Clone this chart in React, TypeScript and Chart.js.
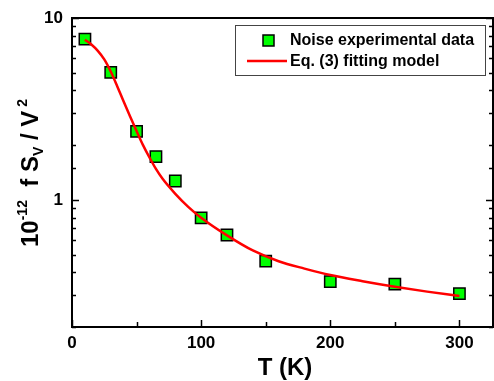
import React, { useEffect, useRef } from 'react';
import { Chart, registerables } from 'chart.js';

Chart.register(...registerables);

const temperatures = [10, 30, 50, 65, 80, 100, 120, 150, 200, 250, 300];
const noiseValues = [7.65, 5.02, 2.38, 1.73, 1.27, 0.797, 0.641, 0.46, 0.355, 0.344, 0.305];
const fitTemperatures = [10, 15, 20, 25, 30, 35, 40, 45, 50, 55, 60, 65, 70, 80, 90, 100, 120, 140, 160, 180, 200, 225, 250, 275, 300];
const fitValues = [7.6, 7.15, 6.6, 5.92, 5.08, 4.22, 3.47, 2.87, 2.39, 2.0, 1.71, 1.48, 1.31, 1.08, 0.916, 0.798, 0.638, 0.527, 0.46, 0.419, 0.386, 0.357, 0.333, 0.313, 0.296];
const xMajorTicks = [0, 100, 200, 300];
const xMinorTicks = [50, 150, 250];
const yLabelTicks = [1, 10];
const legendLabels = ['Noise experimental data', 'Eq. (3) fitting model'];
const xTitle = 'T (K)';

const FONT = "Arial, 'Liberation Sans', sans-serif";

const framePlugin = {
  id: 'frame',
  afterDraw(chart: any) {
    const ctx = chart.ctx;
    const { left, right, top, bottom } = chart.chartArea;
    const xs = chart.scales.x;
    const ys = chart.scales.y;
    ctx.save();
    ctx.strokeStyle = '#000';
    ctx.lineWidth = 2;
    ctx.beginPath();
    ctx.moveTo(left, top);
    ctx.lineTo(right, top);
    ctx.lineTo(right, bottom);
    ctx.lineTo(left, bottom);
    ctx.closePath();
    ctx.stroke();
    ctx.lineWidth = 1.5;
    ys.ticks.forEach((t: any) => {
      const v = t.value;
      const lg = Math.log10(v);
      const major = Math.abs(lg - Math.round(lg)) < 1e-6;
      const len = major ? 7 : 4;
      const py = Math.round(ys.getPixelForValue(v)) + 0.5;
      ctx.beginPath();
      ctx.moveTo(left, py);
      ctx.lineTo(left + len, py);
      ctx.moveTo(right, py);
      ctx.lineTo(right - len, py);
      ctx.stroke();
    });
    xMajorTicks.forEach((v) => {
      const px = Math.round(xs.getPixelForValue(v)) + 0.5;
      ctx.beginPath();
      ctx.moveTo(px, bottom);
      ctx.lineTo(px, bottom - 7);
      ctx.stroke();
    });
    xMinorTicks.forEach((v) => {
      const px = Math.round(xs.getPixelForValue(v)) + 0.5;
      ctx.beginPath();
      ctx.moveTo(px, bottom);
      ctx.lineTo(px, bottom - 5);
      ctx.stroke();
    });

    // legend
    const lx = 235, ly = 25, lw = 250, lh = 50;
    ctx.fillStyle = '#fff';
    ctx.fillRect(lx, ly, lw, lh);
    ctx.lineWidth = 1;
    ctx.strokeStyle = '#444';
    ctx.strokeRect(lx + 0.5, ly + 0.5, lw, lh);
    const pointDs = chart.data.datasets[1];
    const lineDs = chart.data.datasets[0];
    ctx.fillStyle = pointDs.backgroundColor;
    ctx.strokeStyle = pointDs.borderColor;
    ctx.lineWidth = 1.5;
    ctx.fillRect(263, 35, 11, 11);
    ctx.strokeRect(263, 35, 11, 11);
    ctx.strokeStyle = lineDs.borderColor;
    ctx.lineWidth = 2.5;
    ctx.beginPath();
    ctx.moveTo(247, 61);
    ctx.lineTo(287, 61);
    ctx.stroke();
    ctx.fillStyle = '#000';
    ctx.font = `bold 16px ${FONT}`;
    ctx.textAlign = 'left';
    ctx.textBaseline = 'middle';
    ctx.fillText(legendLabels[0], 290, 41);
    ctx.fillText(legendLabels[1], 290, 62);

    // x title
    ctx.font = `bold 24px ${FONT}`;
    ctx.textAlign = 'center';
    ctx.textBaseline = 'middle';
    ctx.fillText(xTitle, 285, 368);

    // y title with super/subscripts
    ctx.translate(38, 247);
    ctx.rotate(-Math.PI / 2);
    ctx.textAlign = 'left';
    ctx.textBaseline = 'alphabetic';
    let cx = 0;
    const seg = (text: string, size: number, dy: number) => {
      ctx.font = `bold ${size}px ${FONT}`;
      ctx.fillText(text, cx, dy);
      cx += ctx.measureText(text).width;
    };
    seg('10', 24, 0);
    seg('-12', 14, -11);
    seg('  f S', 24, 0);
    seg('V', 14, 5);
    seg(' / V', 24, 0);
    seg(' 2', 14, -11);
    ctx.restore();
  },
};

export default function App() {
  const ref = useRef<HTMLCanvasElement | null>(null);
  useEffect(() => {
    if (!ref.current) return;
    const chart = new Chart(ref.current, {
      type: 'scatter',
      data: {
        datasets: [
          {
            type: 'line',
            label: legendLabels[1],
            data: fitTemperatures.map((t, i) => ({ x: t, y: fitValues[i] })),
            borderColor: '#ff0000',
            backgroundColor: '#ff0000',
            borderWidth: 2.5,
            pointRadius: 0,
            tension: 0.4,
            cubicInterpolationMode: 'monotone',
            fill: false,
          } as any,
          {
            label: legendLabels[0],
            data: temperatures.map((t, i) => ({ x: t, y: noiseValues[i] })),
            backgroundColor: '#00ff00',
            borderColor: '#000000',
            borderWidth: 1.5,
            pointStyle: 'rect',
            pointRadius: 8,
            pointHoverRadius: 8,
          },
        ],
      },
      options: {
        animation: false,
        responsive: false,
        maintainAspectRatio: false,
        devicePixelRatio: 1,
        layout: { autoPadding: false, padding: { top: 18, right: 1, left: 0, bottom: 0 } },
        plugins: { legend: { display: false }, tooltip: { enabled: false } },
        scales: {
          x: {
            type: 'linear',
            min: 0,
            max: 326,
            grid: { display: false, drawTicks: false },
            border: { display: false },
            ticks: {
              stepSize: 100,
              includeBounds: false,
              padding: 6,
              color: '#000',
              font: { family: FONT, size: 17, weight: 'bold' },
              callback: (v: any) => (xMajorTicks.includes(Number(v)) ? String(v) : ''),
            },
            afterFit: (s: any) => {
              s.height = 54;
              s.paddingLeft = 0;
              s.paddingRight = 0;
            },
          },
          y: {
            type: 'logarithmic',
            min: 0.2,
            max: 10,
            grid: { display: false, drawTicks: false },
            border: { display: false },
            ticks: {
              autoSkip: false,
              padding: 9,
              color: '#000',
              font: { family: FONT, size: 17, weight: 'bold' },
              callback: (v: any) => (yLabelTicks.includes(Number(v)) ? String(v) : ''),
            },
            afterFit: (s: any) => {
              s.width = 72;
              s.paddingTop = 0;
              s.paddingBottom = 0;
            },
          },
        },
      } as any,
      plugins: [framePlugin],
    });
    return () => chart.destroy();
  }, []);
  return (
    <div style={{ position: 'fixed', left: 0, top: 0, width: 494, height: 381, background: '#fff' }}>
      <canvas ref={ref} width={494} height={381} style={{ display: 'block', width: 494, height: 381 }} />
    </div>
  );
}
